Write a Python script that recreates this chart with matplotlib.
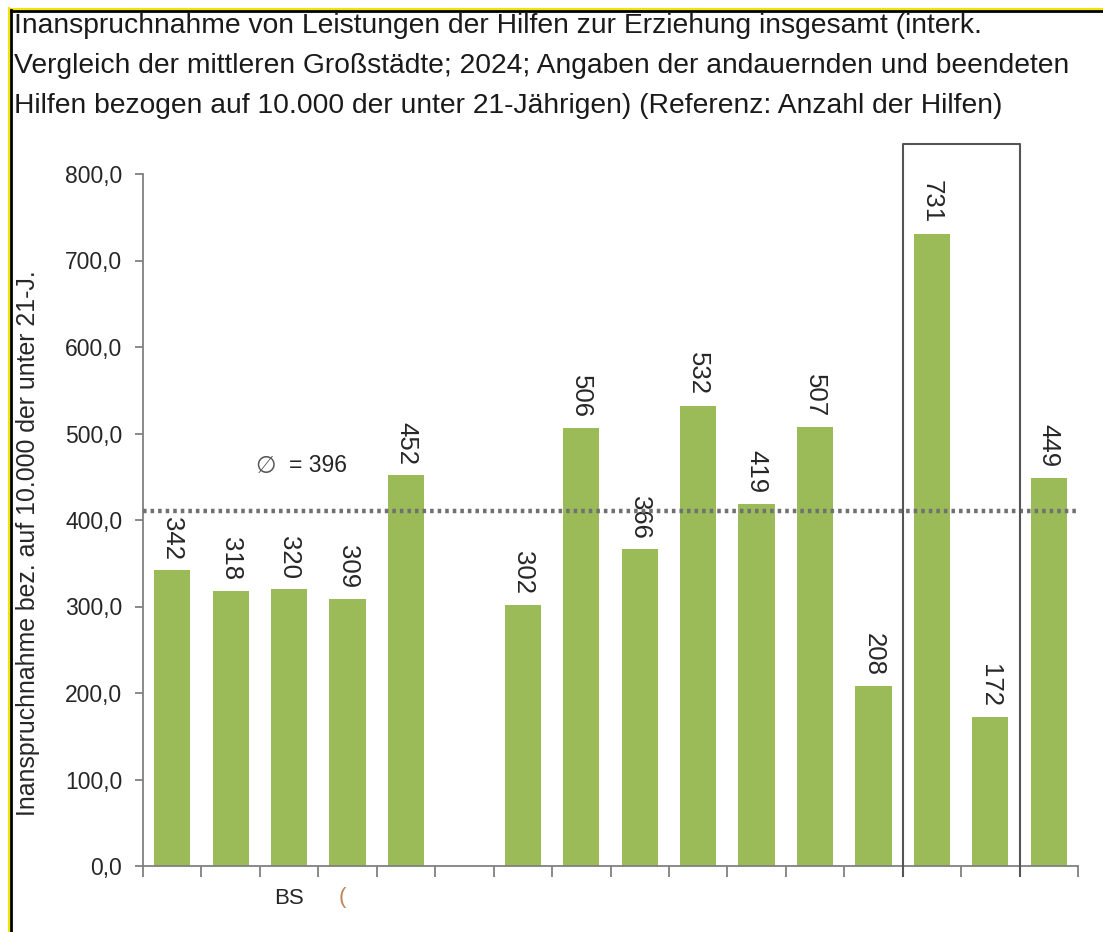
import numpy as np
import matplotlib.pyplot as plt
from matplotlib.lines import Line2D

# Werte je Stadt (Index 5 = Lücke ohne Balken)
werte = [342, 318, 320, 309, 452, None, 302, 506, 366, 532, 419, 507, 208, 731, 172, 449]
staedte = ["", "", "BS", "", "", "", "", "", "", "", "", "", "", "", "", ""]
durchschnitt_linie = 410
durchschnitt_text = "= 396"
markiert = (12.5, 14.5)  # Rahmen um die beiden Balken

titel = ("Inanspruchnahme von Leistungen der Hilfen zur Erziehung insgesamt (interk.\n"
         "Vergleich der mittleren Großstädte; 2024; Angaben der andauernden und beendeten\n"
         "Hilfen bezogen auf 10.000 der unter 21-Jährigen) (Referenz: Anzahl der Hilfen)")
y_label = "Inanspruchnahme bez. auf 10.000 der unter 21-J."

plt.rcParams['font.family'] = ['Liberation Sans', 'DejaVu Sans']

W, H = 1103, 932
fig = plt.figure(figsize=(W / 100, H / 100), dpi=100)
ax = fig.add_axes([143 / W, 1 - 866 / H, (1078 - 143) / W, (866 - 174) / H])

gruen = "#9bbb59"
x = np.arange(len(werte))
for xi, v in zip(x, werte):
    if v is None:
        continue
    ax.bar(xi, v, width=0.62, color=gruen, zorder=2)
    ax.text(xi, v + 12, str(v), rotation=-90, ha="center", va="bottom",
            fontsize=18.5, color="#262626")

# Durchschnittslinie
ax.plot([-0.5, 15.5], [durchschnitt_linie] * 2, linestyle=(0, (0.8, 0.9)),
        color="#707070", lw=3.2, zorder=3, clip_on=False)
ax.text(1.42, 463, "\u2205", fontsize=17, color="#555555", va="center",
        family=["DejaVu Sans"])
ax.text(2.0, 463, durchschnitt_text, fontsize=16.5, color="#262626", va="center")

# Rahmen
rx0, rx1 = markiert
ax.plot([rx0, rx0, rx1, rx1], [-12, 835, 835, -12], color="#555555", lw=1.5,
        clip_on=False, zorder=4)

ax.set_xlim(-0.5, 15.5)
ax.set_ylim(0, 800)
ax.set_yticks(np.arange(0, 801, 100))
ax.set_yticklabels([f"{v:.1f}".replace(".", ",") for v in np.arange(0, 801, 100)],
                   fontsize=16.5, color="#262626")
ax.set_xticks(x)
ax.set_xticklabels(staedte, fontsize=16, color="#262626")
ax.tick_params(axis="x", which="major", length=0, pad=16)
ax.set_xticks(np.arange(-0.5, 15.6, 1), minor=True)
ax.tick_params(axis="x", which="minor", length=8, color="#808080", width=1.3)
ax.tick_params(axis="y", length=6, color="#808080", width=1.3, pad=9)
for s in ["top", "right"]:
    ax.spines[s].set_visible(False)
for s in ["left", "bottom"]:
    ax.spines[s].set_color("#808080")
    ax.spines[s].set_linewidth(1.3)

ax.text(2.92, -24, "(", fontsize=16, color="#c0855a", ha="center", va="top")

ax.set_ylabel(y_label, fontsize=17.9, color="#262626")
ax.yaxis.set_label_coords(-103 / 935, (866 - 543) / 692)

fig.text(14 / W, 1 - 13 / H, titel, fontsize=20.3, color="#1a1a1a",
         ha="left", va="top", linespacing=1.7)

# Rahmen oben und links (gelb + schwarz)
fig.add_artist(Line2D([9 / W, 1], [1 - 8.5 / H, 1 - 8.5 / H], color="#f5e400", lw=1.5))
fig.add_artist(Line2D([10 / W, 1], [1 - 11 / H, 1 - 11 / H], color="black", lw=2))
fig.add_artist(Line2D([8.5 / W, 8.5 / W], [0, 1 - 8 / H], color="#f5e400", lw=1.5))
fig.add_artist(Line2D([11 / W, 11 / W], [0, 1 - 10 / H], color="black", lw=2))

fig.savefig("out.png", dpi=100)
